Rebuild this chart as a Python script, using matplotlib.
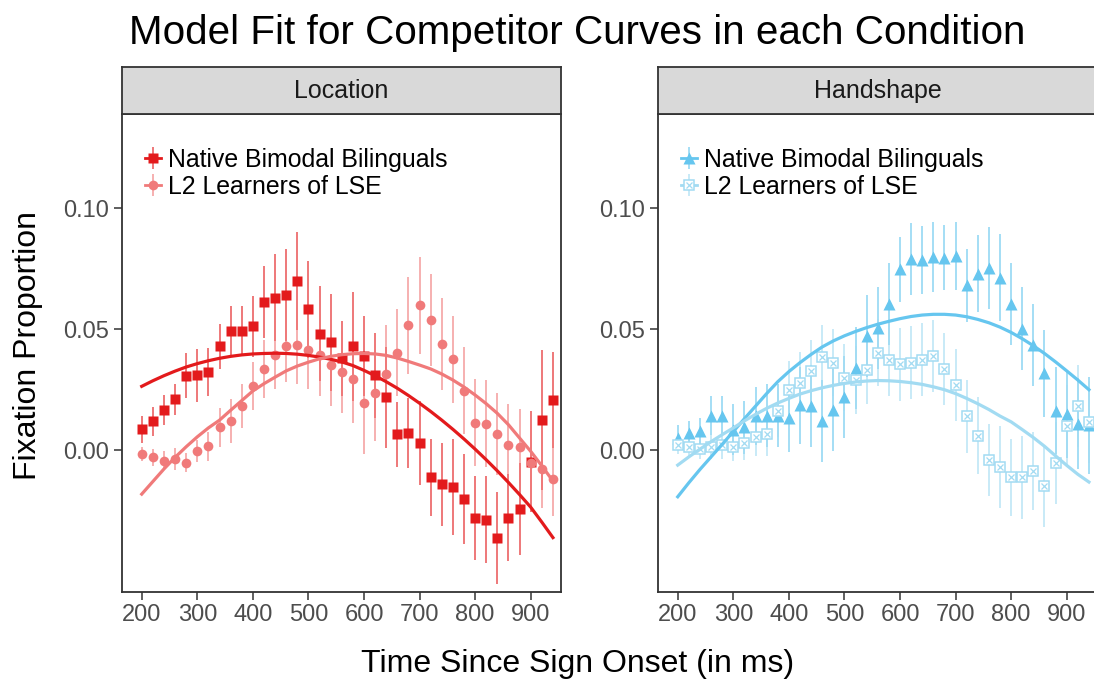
"""
Model fit for competitor curves, one panel per condition.
"""

import matplotlib
matplotlib.use("Agg")
import matplotlib.pyplot as plt
from matplotlib.lines import Line2D
from matplotlib.legend_handler import HandlerTuple

plt.rcParams["font.family"] = ["Liberation Sans", "DejaVu Sans"]

# Time bins (ms)
time_ms = [200, 220, 240, 260, 280, 300, 320, 340, 360, 380,
           400, 420, 440, 460, 480, 500, 520, 540, 560, 580,
           600, 620, 640, 660, 680, 700, 720, 740, 760, 780,
           800, 820, 840, 860, 880, 900, 920, 940]

# Location - native bimodal bilinguals
loc_native = [0.0086, 0.0120, 0.0165, 0.0210, 0.0307, 0.0310, 0.0324, 0.0430, 0.0493, 0.0493,
              0.0512, 0.0612, 0.0630, 0.0643, 0.0700, 0.0583, 0.0482, 0.0446, 0.0381, 0.0430,
              0.0390, 0.0310, 0.0218, 0.0066, 0.0069, 0.0030, -0.0112, -0.0142, -0.0152, -0.0204,
              -0.0280, -0.0289, -0.0365, -0.0280, -0.0245, -0.0048, 0.0124, 0.0207]
loc_native_se = [0.0055, 0.0060, 0.0062, 0.0065, 0.0093, 0.0110, 0.0100, 0.0093, 0.0105, 0.0105,
                 0.0127, 0.0148, 0.0180, 0.0190, 0.0203, 0.0200, 0.0196, 0.0200, 0.0155, 0.0225,
                 0.0165, 0.0175, 0.0210, 0.0135, 0.0145, 0.0175, 0.0160, 0.0170, 0.0200, 0.0186,
                 0.0175, 0.0180, 0.0190, 0.0180, 0.0190, 0.0210, 0.0290, 0.0200]
loc_native_fit = [0.0264, 0.0287, 0.0308, 0.0327, 0.0344, 0.0358, 0.0370, 0.0380, 0.0388, 0.0394,
                  0.0398, 0.0400, 0.0401, 0.0400, 0.0397, 0.0392, 0.0385, 0.0376, 0.0365, 0.0350,
                  0.0330, 0.0308, 0.0283, 0.0256, 0.0226, 0.0194, 0.0160, 0.0124, 0.0086, 0.0046,
                  0.0004, -0.0040, -0.0086, -0.0134, -0.0184, -0.0236, -0.0298, -0.0362]

# Location - L2 learners of LSE
loc_l2 = [-0.0017, -0.0030, -0.0044, -0.0038, -0.0052, -0.0003, 0.0017, 0.0094, 0.0121, 0.0183,
          0.0266, 0.0335, 0.0395, 0.0431, 0.0434, 0.0413, 0.0393, 0.0351, 0.0324, 0.0293,
          0.0193, 0.0238, 0.0317, 0.0404, 0.0517, 0.0599, 0.0537, 0.0438, 0.0376, 0.0245,
          0.0114, 0.0110, 0.0066, 0.0021, 0.0011, -0.0052, -0.0079, -0.0121]
loc_l2_se = [0.0030, 0.0035, 0.0040, 0.0045, 0.0040, 0.0045, 0.0060, 0.0080, 0.0090, 0.0090,
             0.0100, 0.0120, 0.0140, 0.0150, 0.0160, 0.0160, 0.0170, 0.0170, 0.0170, 0.0180,
             0.0210, 0.0200, 0.0200, 0.0180, 0.0200, 0.0200, 0.0190, 0.0190, 0.0180, 0.0180,
             0.0180, 0.0180, 0.0170, 0.0170, 0.0160, 0.0160, 0.0160, 0.0150]
loc_l2_fit = [-0.0182, -0.0130, -0.0078, -0.0030, 0.0014, 0.0055, 0.0092, 0.0124, 0.0165, 0.0205,
              0.0245, 0.0275, 0.0302, 0.0328, 0.0348, 0.0364, 0.0378, 0.0388, 0.0395, 0.0399,
              0.0400, 0.0398, 0.0392, 0.0381, 0.0367, 0.0352, 0.0336, 0.0315, 0.0290, 0.0261,
              0.0228, 0.0192, 0.0152, 0.0105, 0.0050, -0.0005, -0.0065, -0.0128]

# Handshape - native bimodal bilinguals
hand_native = [0.0052, 0.0069, 0.0080, 0.0142, 0.0142, 0.0085, 0.0094, 0.0142, 0.0142, 0.0142,
               0.0131, 0.0186, 0.0183, 0.0121, 0.0165, 0.0220, 0.0340, 0.0472, 0.0507, 0.0606,
               0.0748, 0.0790, 0.0788, 0.0799, 0.0796, 0.0804, 0.0682, 0.0730, 0.0755, 0.0714,
               0.0606, 0.0503, 0.0434, 0.0319, 0.0162, 0.0149, 0.0110, 0.0103]
hand_native_se = [0.0050, 0.0050, 0.0055, 0.0080, 0.0080, 0.0105, 0.0110, 0.0120, 0.0130, 0.0130,
                  0.0140, 0.0160, 0.0170, 0.0170, 0.0170, 0.0170, 0.0170, 0.0170, 0.0170, 0.0170,
                  0.0135, 0.0150, 0.0140, 0.0145, 0.0135, 0.0140, 0.0150, 0.0160, 0.0170, 0.0180,
                  0.0170, 0.0170, 0.0170, 0.0180, 0.0180, 0.0180, 0.0190, 0.0200]
hand_native_fit = [-0.0193, -0.0135, -0.0080, -0.0028, 0.0024, 0.0077, 0.0130, 0.0182, 0.0234, 0.0283,
                   0.0325, 0.0362, 0.0396, 0.0427, 0.0452, 0.0473, 0.0491, 0.0507, 0.0521, 0.0533,
                   0.0544, 0.0553, 0.0559, 0.0562, 0.0562, 0.0559, 0.0552, 0.0541, 0.0527, 0.0509,
                   0.0487, 0.0461, 0.0432, 0.0400, 0.0365, 0.0328, 0.0290, 0.0250]

# Handshape - L2 learners of LSE
hand_l2 = [0.0023, 0.0014, 0.0003, 0.0014, 0.0023, 0.0014, 0.0030, 0.0055, 0.0066, 0.0163,
           0.0248, 0.0278, 0.0326, 0.0386, 0.0362, 0.0300, 0.0289, 0.0332, 0.0404, 0.0375,
           0.0355, 0.0362, 0.0375, 0.0390, 0.0335, 0.0269, 0.0140, 0.0060, -0.0041, -0.0069,
           -0.0113, -0.0113, -0.0087, -0.0147, -0.0052, 0.0099, 0.0182, 0.0117]
hand_l2_se = [0.0040, 0.0040, 0.0040, 0.0050, 0.0060, 0.0060, 0.0070, 0.0080, 0.0090, 0.0110,
              0.0120, 0.0130, 0.0130, 0.0130, 0.0140, 0.0140, 0.0140, 0.0140, 0.0140, 0.0150,
              0.0150, 0.0150, 0.0150, 0.0150, 0.0150, 0.0150, 0.0150, 0.0160, 0.0150, 0.0170,
              0.0160, 0.0170, 0.0160, 0.0170, 0.0170, 0.0170, 0.0170, 0.0170]
hand_l2_fit = [-0.0062, -0.0028, 0.0004, 0.0035, 0.0064, 0.0092, 0.0121, 0.0148, 0.0173, 0.0195,
               0.0214, 0.0232, 0.0246, 0.0258, 0.0268, 0.0276, 0.0282, 0.0286, 0.0288, 0.0287,
               0.0284, 0.0279, 0.0272, 0.0262, 0.0250, 0.0234, 0.0214, 0.0192, 0.0168, 0.0141,
               0.0117, 0.0085, 0.0052, 0.0016, -0.0024, -0.0063, -0.0100, -0.0132]

group_labels = ["Native Bimodal Bilinguals", "L2 Learners of LSE"]
y_ticks = [0.00, 0.05, 0.10]
x_ticks = [200, 300, 400, 500, 600, 700, 800, 900]

RED = "#E31A1C"
PINK = "#F07A7A"
BLUE = "#66C6EF"
LIGHT_BLUE = "#A2DBF2"
FRAME = "#333333"
TICK_TEXT = "#4D4D4D"

W, H = 1094, 679


def _px_box(x0, y0, x1, y1):
    """Pixel box (top-left origin) to figure fraction rect."""
    return [x0 / W, 1 - y1 / H, (x1 - x0) / W, (y1 - y0) / H]


def draw_series(ax, vals, se, fit, color, marker, size, boxed=False):
    """Error bars, points and fitted curve for one group."""
    ax.errorbar(time_ms, vals, yerr=se, fmt="none", ecolor=color,
                elinewidth=1.1, alpha=0.75, zorder=2)
    if boxed:
        ax.plot(time_ms, vals, ls="none", marker="s", ms=size, mfc="white",
                mec=color, mew=1.1, zorder=3)
        ax.plot(time_ms, vals, ls="none", marker="x", ms=size * 0.6,
                mec=color, mew=0.9, zorder=3)
    else:
        ax.plot(time_ms, vals, ls="none", marker=marker, ms=size,
                color=color, mec="none", zorder=3)
    ax.plot(time_ms, fit, color=color, lw=2.3, zorder=4)


def legend_handle(color, marker, size, boxed=False):
    line = Line2D([], [], color=color, lw=2.0)
    bar = Line2D([], [], color=color, marker="|", ms=16, mew=1.1, ls="none", alpha=0.75)
    if boxed:
        box = Line2D([], [], ls="none", marker="s", ms=size, mfc="white", mec=color, mew=1.1)
        cross = Line2D([], [], ls="none", marker="x", ms=size * 0.6, mec=color, mew=0.9)
        return (line, bar, box, cross)
    pt = Line2D([], [], ls="none", marker=marker, ms=size, color=color, mec="none")
    return (line, bar, pt)


def setup_panel(ax, strip_ax, title):
    ax.set_xlim(164.5, 954.5)
    ax.set_ylim(-0.0585, 0.1393)
    ax.set_xticks(x_ticks)
    ax.set_yticks(y_ticks)
    ax.set_yticklabels([f"{v:.2f}" for v in y_ticks])
    ax.tick_params(length=6, width=1.1, color=FRAME, labelsize=17, labelcolor=TICK_TEXT, pad=3)
    for s in ax.spines.values():
        s.set_color(FRAME)
        s.set_linewidth(1.3)

    strip_ax.set_facecolor("#D9D9D9")
    strip_ax.set_xticks([])
    strip_ax.set_yticks([])
    for s in strip_ax.spines.values():
        s.set_color(FRAME)
        s.set_linewidth(1.3)
    strip_ax.text(0.5, 0.47, title, ha="center", va="center", fontsize=18,
                  color="#1A1A1A", transform=strip_ax.transAxes)


fig = plt.figure(figsize=(W / 100, H / 100), dpi=100)

panels = [
    ("Location", 122, [(loc_native, loc_native_se, loc_native_fit, RED, "s", 7.5, False),
                       (loc_l2, loc_l2_se, loc_l2_fit, PINK, "o", 7.0, False)]),
    ("Handshape", 658, [(hand_native, hand_native_se, hand_native_fit, BLUE, "^", 8.0, False),
                        (hand_l2, hand_l2_se, hand_l2_fit, LIGHT_BLUE, "s", 7.0, True)]),
]

for title, x0, series in panels:
    ax = fig.add_axes(_px_box(x0, 113.5, x0 + 439, 591.5))
    strip = fig.add_axes(_px_box(x0, 66.5, x0 + 439, 113.5))
    setup_panel(ax, strip, title)
    handles = []
    for vals, se, fit, color, marker, size, boxed in series:
        draw_series(ax, vals, se, fit, color, marker, size, boxed)
        handles.append(legend_handle(color, marker, size, boxed))
    ax.legend(handles, group_labels, handler_map={tuple: HandlerTuple(ndivide=1, pad=0)},
              loc="upper left", bbox_to_anchor=(0.0305, 0.949), frameon=False,
              fontsize=17.9, handlelength=0.65, handletextpad=0.25,
              labelspacing=0.125, borderaxespad=0.0)

fig.text(577 / W, 1 - 33 / H, "Model Fit for Competitor Curves in each Condition",
         ha="center", va="center", fontsize=29.1, color="black")
fig.text(28 / W, 1 - 345 / H, "Fixation Proportion", rotation=90,
         ha="center", va="center", fontsize=23, color="black")
fig.text(578 / W, 1 - 664 / H, "Time Since Sign Onset (in ms)",
         ha="center", va="center", fontsize=23, color="black")

fig.savefig("out.png", dpi=100)
